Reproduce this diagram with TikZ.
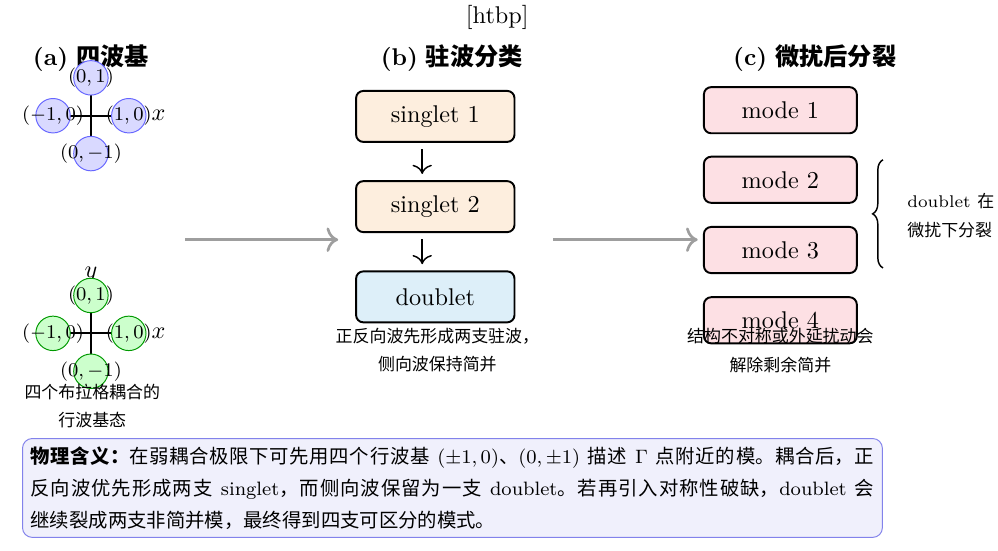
\documentclass[tikz,border=0pt]{standalone}
\usepackage{fontspec}
\usetikzlibrary{decorations.pathreplacing,arrows.meta}
\newfontfamily\cjk{Noto Sans CJK SC}
\newcommand{\zh}[1]{{\cjk #1}}
\XeTeXlinebreaklocale "zh"
\XeTeXlinebreakskip = 0pt plus 1pt
\definecolor{singletfill}{RGB}{253,238,222}
\definecolor{doubletfill}{RGB}{221,239,249}
\definecolor{modefill}{RGB}{253,224,228}
\definecolor{notefill}{RGB}{240,240,252}
\definecolor{notedraw}{RGB}{130,130,235}

\begin{document}
\begin{tikzpicture}[
    sbox/.style={draw, line width=0.8pt, rounded corners=3pt, minimum width=2.3cm, minimum height=0.74cm},
    mbox/.style={draw, line width=0.8pt, rounded corners=3pt, fill=modefill, minimum width=2.22cm, minimum height=0.67cm},
    kvec/.style={font=\footnotesize},
    captext/.style={font=\fontsize{7}{11.6}\selectfont, align=center},
    flow/.style={-{To[scale=1.2]}, line width=1.1pt, color=black!38},
    down/.style={-{To[scale=1.3]}, semithick, shorten <=0.09cm, shorten >=0.09cm},
  ]
    \useasboundingbox (0,0) rectangle (14.49,-7.99);
    \node (htbp) at (7.22,-0.26) {[htbp]};

    % (a) four travelling-wave basis
    \node (ta) at (1.32,-0.84) {\textbf{(a)} \zh{\bfseries 四波基}};
    \draw [thick] (0.57,-1.68) -- (2.07,-1.68) node[right] (xa) {$x$};
    \draw [thick] (1.32,-2.43) -- (1.32,-0.93);
    \filldraw [fill=blue!15, draw=blue!60] (1.32,-1.13) circle (0.25);
    \filldraw [fill=blue!15, draw=blue!60] (0.77,-1.68) circle (0.25);
    \filldraw [fill=blue!15, draw=blue!60] (1.87,-1.68) circle (0.25);
    \filldraw [fill=blue!15, draw=blue!60] (1.32,-2.23) circle (0.25);
    \node[kvec] (ka1) at (1.32,-1.13) {$(0,1)$};
    \node[kvec] (ka2) at (0.77,-1.68) {$(-1,0)$};
    \node[kvec] (ka3) at (1.87,-1.68) {$(1,0)$};
    \node[kvec] (ka4) at (1.32,-2.23) {$(0,-1)$};

    \draw [thick] (0.57,-4.84) -- (2.07,-4.84) node[right] (xb) {$x$};
    \draw [thick] (1.32,-5.59) -- (1.32,-4.09) node[above, yshift=-0.14cm] (yb) {$y$};
    \filldraw [fill=green!20, draw=green!60!black] (1.32,-4.29) circle (0.25);
    \filldraw [fill=green!20, draw=green!60!black] (0.77,-4.84) circle (0.25);
    \filldraw [fill=green!20, draw=green!60!black] (1.87,-4.84) circle (0.25);
    \filldraw [fill=green!20, draw=green!60!black] (1.32,-5.39) circle (0.25);
    \node[kvec] (kb1) at (1.32,-4.29) {$(0,1)$};
    \node[kvec] (kb2) at (0.77,-4.84) {$(-1,0)$};
    \node[kvec] (kb3) at (1.87,-4.84) {$(1,0)$};
    \node[kvec] (kb4) at (1.32,-5.39) {$(0,-1)$};
    \node[captext] (capa) at (1.34,-5.90) {\zh{四个布拉格耦合的}\\\zh{行波基态}};

    % (b) standing waves
    \node (tb) at (6.56,-0.84) {\textbf{(b)} \zh{\bfseries 驻波分类}};
    \node[sbox, fill=singletfill] (s1) at (6.32,-1.69) {singlet 1};
    \node[sbox, fill=singletfill] (s2) at (6.32,-3.00) {singlet 2};
    \node[sbox, fill=doubletfill] (db) at (6.32,-4.31) {doublet};
    \draw [down] ([xshift=-0.19cm]s1.south) -- ([xshift=-0.19cm]s2.north);
    \draw [down] ([xshift=-0.19cm]s2.south) -- ([xshift=-0.19cm]db.north);
    \node[captext] (capb) at (6.35,-5.08) {\zh{正反向波先形成两支驻波，}\\\zh{侧向波保持简并}};

    % (c) splitting
    \node (tc) at (11.83,-0.84) {\textbf{(c)} \zh{\bfseries 微扰后分裂}};
    \node[mbox] (m1) at (11.33,-1.60) {mode 1};
    \node[mbox] (m2) at (11.33,-2.61) {mode 2};
    \node[mbox] (m3) at (11.33,-3.63) {mode 3};
    \node[mbox] (m4) at (11.33,-4.65) {mode 4};
    \node[captext] (capc) at (11.33,-5.09) {\zh{结构不对称或外延扰动会}\\\zh{解除剩余简并}};
    \coordinate (bb) at (12.82,-3.89);
    \coordinate (bt) at (12.82,-2.32);
    \draw [semithick, decorate, decoration={brace, amplitude=0.15cm}] (bb) -- (bt);
    \node[captext, align=left, anchor=west] (dbl) at (13.05,-3.13) {doublet \zh{在}\\\zh{微扰下分裂}};

    % flow between panels
    \coordinate (fa1) at (2.69,-3.48);
    \coordinate (fa2) at (4.91,-3.48);
    \coordinate (fb1) at (8.03,-3.48);
    \coordinate (fb2) at (10.13,-3.48);
    \draw [flow] (fa1) -- (fa2);
    \draw [flow] (fb1) -- (fb2);

    % note
    \node[draw=notedraw, fill=notefill, rounded corners=4pt, anchor=north west,
      text width=12.25cm, align=justify, font=\fontsize{8}{13.2}\selectfont] (note) at (0.32,-6.36)
      {\zh{\bfseries 物理含义：}\zh{在弱耦合极限下可先用四个行波基} $(\pm1,0)$\zh{、}$(0,\pm1)$ \zh{描述} $\Gamma$ \zh{点附近的模。耦合后，正}\linebreak
       \zh{反向波优先形成两支} singlet\zh{，而侧向波保留为一支} doublet\zh{。若再引入对称性破缺，}doublet \zh{会}\linebreak
       \zh{继续裂成两支非简并模，最终得到四支可区分的模式。}};
\end{tikzpicture}
\end{document}
